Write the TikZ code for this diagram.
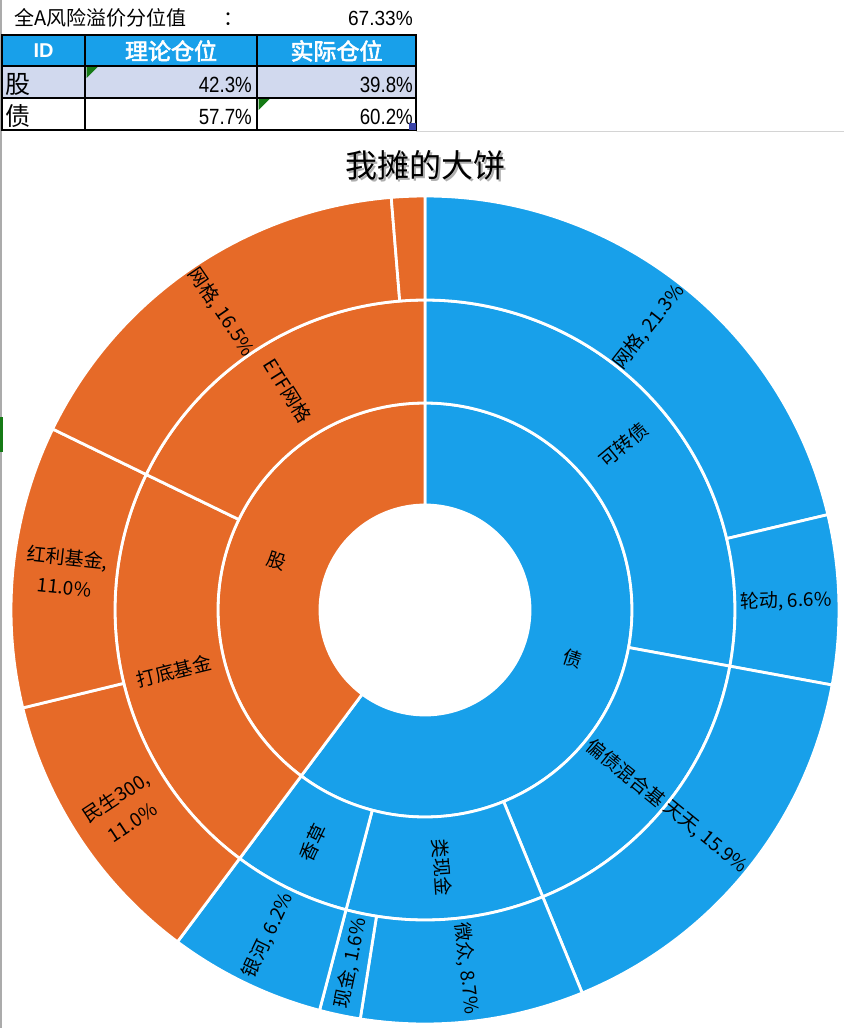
\documentclass[tikz,border=0pt]{standalone}
\usepackage{fontspec}
\newfontfamily\cjk{Noto Sans CJK SC}
\newfontfamily\cjkbold[FakeBold=2.5]{Noto Sans CJK SC}
\newfontfamily\numfont[FakeStretch=0.85]{Liberation Sans}
\newfontfamily\numfontw[FakeStretch=0.93]{Liberation Sans}
\newfontfamily\arialf{Liberation Sans}
\definecolor{pieorange}{HTML}{E66A28}
\definecolor{pieblue}{HTML}{18A0EA}
\definecolor{rowfill}{HTML}{D1D9EE}
\definecolor{xlgreen}{HTML}{157A15}
\definecolor{gridgray}{HTML}{D4D4D4}
\definecolor{edgegray}{HTML}{ABABAB}
\definecolor{handleblue}{HTML}{3B44A8}
\newcommand\ringseg[5]{%
  \pgfmathsetmacro\rsA{90-3.6*#2}%
  \pgfmathsetmacro\rsB{90-3.6*#3}%
  \path[segline, fill=#1] ([shift={(\rsA:#4)}]c) arc[start angle=\rsA, end angle=\rsB, radius=#4]
    -- ([shift={(\rsB:#5)}]c) arc[start angle=\rsB, end angle=\rsA, radius=#5] -- cycle;}
\newcommand\seglabel[5]{%
  \pgfmathsetmacro\rsM{90-3.6*#2}%
  \node[lbl, rotate=#4] (#1) at ([shift={(\rsM:#3)}]c) {#5};}
\begin{document}
\begin{tikzpicture}[x=1pt,y=1pt,
  segline/.style={draw=white, line width=2.8pt, line join=round},
  lbl/.style={inner sep=0pt, font=\cjk\fontsize{19}{30}\selectfont, text=black, align=center},
  tabline/.style={draw=black, line width=2pt},
  headtxt/.style={inner sep=0pt, text=white, font=\cjkbold\fontsize{23}{26}\selectfont},
  celltxt/.style={inner sep=0pt, anchor=east, font=\numfont\fontsize{22}{24}\selectfont},
  rowtxt/.style={inner sep=0pt, anchor=west, font=\cjk\fontsize{25}{28}\selectfont},
  titletxt/.style={inner sep=0pt, font=\cjk\fontsize{32}{36}\selectfont}]
\useasboundingbox (0,0) rectangle (844,-1028);
\fill[white] (0,0) rectangle (844,-1028);
% sheet edges
\fill[edgegray] (0,0) rectangle (2,-1028);
\fill[xlgreen] (0,-417) rectangle (3,-452);
\draw[gridgray, line width=1.2pt] (416,-131.5) -- (844,-131.5);
% top row
\node[inner sep=0pt, anchor=west, font=\cjk\fontsize{20}{24}\selectfont] (risklabel) at (14,-18) {全A风险溢价分位值\hspace{37pt}：};
\node[inner sep=0pt, anchor=east, font=\numfontw\fontsize{20.5}{24}\selectfont] (riskvalue) at (413,-18) {67.33\%};
% table
\fill[pieblue] (2,-35) rectangle (416,-66);
\fill[rowfill] (2,-66) rectangle (416,-98);
\draw[tabline] (2,-35) rectangle (416,-130);
\draw[tabline] (2,-66) -- (416,-66);
\draw[tabline] (2,-98) -- (416,-98);
\draw[tabline] (85,-35) -- (85,-130);
\draw[tabline] (257,-35) -- (257,-130);
\node[inner sep=0pt, text=white, font=\arialf\bfseries\fontsize{20}{24}\selectfont] (hid) at (43.5,-51) {ID};
\node[headtxt] (htheory) at (171,-51) {理论仓位};
\node[headtxt] (hactual) at (336.5,-51) {实际仓位};
\node[rowtxt] (rgu) at (5,-84) {股};
\node[rowtxt] (rzhai) at (5,-116) {债};
\node[celltxt] (c11) at (252,-85) {42.3\%};
\node[celltxt] (c12) at (413,-85) {39.8\%};
\node[celltxt] (c21) at (252,-117) {57.7\%};
\node[celltxt] (c22) at (413,-117) {60.2\%};
\fill[xlgreen] (86.5,-67) -- (97.5,-67) -- (86.5,-78) -- cycle;
\fill[xlgreen] (258.5,-99) -- (269.5,-99) -- (258.5,-110) -- cycle;
\fill[handleblue] (409,-123) rectangle (416,-130);
% title
\node[titletxt, text=black!45, opacity=0.7] (titleshadow) at (427,-167) {我摊的大饼};
\node[titletxt] (title) at (425,-165) {我摊的大饼};
% sunburst
\coordinate (c) at (425,-610);
% inner ring
\ringseg{pieblue}{0}{60.2}{105}{207}
\ringseg{pieorange}{60.2}{100}{105}{207}
% middle ring
\ringseg{pieblue}{0}{27.9}{207}{310}
\ringseg{pieblue}{27.9}{43.8}{207}{310}
\ringseg{pieblue}{43.8}{54.1}{207}{310}
\ringseg{pieblue}{54.1}{60.2}{207}{310}
\ringseg{pieorange}{60.2}{82.2}{207}{310}
\ringseg{pieorange}{82.2}{100}{207}{310}
% outer ring
\ringseg{pieblue}{0}{21.3}{310}{414}
\ringseg{pieblue}{21.3}{27.9}{310}{414}
\ringseg{pieblue}{27.9}{43.8}{310}{414}
\ringseg{pieblue}{43.8}{52.5}{310}{414}
\ringseg{pieblue}{52.5}{54.1}{310}{414}
\ringseg{pieblue}{54.1}{60.2}{310}{414}
\ringseg{pieorange}{60.2}{71.2}{310}{414}
\ringseg{pieorange}{71.2}{82.2}{310}{414}
\ringseg{pieorange}{82.2}{98.7}{310}{414}
\ringseg{pieorange}{98.7}{100}{310}{414}
% labels
\seglabel{lZhai}{30.1}{156}{-18.4}{债}
\seglabel{lGu}{80.1}{156}{-18.4}{股}
\seglabel{lKzz}{13.95}{258.5}{39.8}{可转债}
\seglabel{lPz}{35.85}{258.5}{-39.1}{偏债混合基}
\seglabel{lLxj}{48.95}{258.5}{-86.2}{类现金}
\seglabel{lXc}{57.15}{258.5}{64.3}{香草}
\seglabel{lDd}{71.2}{258.5}{13.7}{打底基金}
\seglabel{lEtf}{91.1}{258.5}{-58.0}{ETF网格}
\seglabel{lWgA}{10.65}{361}{51.7}{网格, 21.3\%}
\seglabel{lLd}{24.6}{361}{1.4}{轮动, 6.6\%}
\seglabel{lTt}{35.85}{361}{-39.1}{天天, 15.9\%}
\seglabel{lWz}{48.15}{361}{-83.3}{微众, 8.7\%}
\seglabel{lXj}{53.3}{361}{78.1}{现金, 1.6\%}
\seglabel{lYh}{57.15}{361}{64.3}{银河, 6.2\%}
\seglabel{lMs}{65.7}{361}{33.5}{民生300,\\11.0\%}
\seglabel{lHl}{76.7}{361}{-6.1}{红利基金,\\11.0\%}
\seglabel{lWgB}{90.45}{361}{-55.6}{网格, 16.5\%}
\end{tikzpicture}
\end{document}
